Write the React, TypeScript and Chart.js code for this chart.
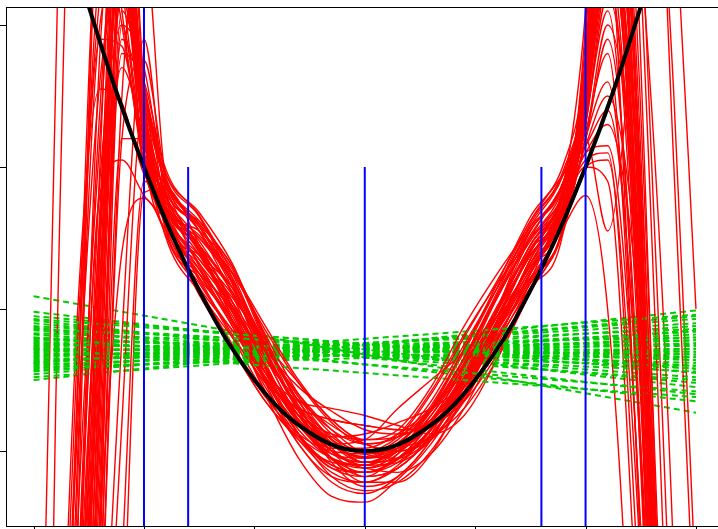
import React, { useEffect, useRef } from "react";
import { Chart, registerables } from "chart.js";

Chart.register(...registerables);

// Axis ticks (labels fall outside the cropped picture)
const X_TICKS = [-3, -2, -1, 0, 1, 2, 3];
const Y_TICKS = [0, 1, 2, 3];

// True curve (black)
const TRUE_X = [-3, -2.75, -2.5, -2.25, -2, -1.75, -1.5, -1.25, -1, -0.75, -0.5, -0.25, 0, 0.25, 0.5, 0.75, 1, 1.25, 1.5, 1.75, 2, 2.25, 2.5, 2.75, 3];
const TRUE_Y = [4.5, 3.78, 3.13, 2.53, 2.0, 1.53, 1.13, 0.78, 0.5, 0.28, 0.13, 0.03, 0, 0.03, 0.13, 0.28, 0.5, 0.78, 1.13, 1.53, 2.0, 2.53, 3.13, 3.78, 4.5];

// High-degree polynomial fits (red), sampled on FIT_X
const FIT_X = [-3, -2.8, -2.6, -2.4, -2.2, -2, -1.8, -1.5, -1.2, -0.9, -0.6, -0.3, 0, 0.3, 0.6, 0.9, 1.2, 1.5, 1.8, 2, 2.2, 2.4, 2.6, 2.8, 3];
const POLY_FITS = [
  [-20, -9, -3, 1.5, 4.5, 2.3, 1.72, 1.43, 1.05, 0.55, 0.2, -0.02, -0.05, 0.05, 0.28, 0.6, 0.95, 1.3, 1.7, 2.5, 4.2, 2.2, -1.5, -8, -20],
  [-25, -12, -5, -0.8, 3.8, 2.4, 1.55, 1.25, 1.0, 0.6, 0.2, -0.05, -0.15, -0.08, 0.15, 0.55, 1.0, 1.42, 1.75, 2.8, 5.0, 3.5, -0.5, -6, -15],
  [-10, -4, 0.5, 3.8, 3.5, 2.1, 1.85, 1.55, 1.15, 0.62, 0.22, 0.1, 0.12, 0.2, 0.3, 0.48, 0.85, 1.35, 1.75, 2.3, 3.6, 1.0, -3, -10, -22],
  [-12, -5, -1.2, 1.8, 2.05, 1.8, 1.62, 1.2, 0.8, 0.4, 0.08, -0.15, -0.22, -0.12, 0.1, 0.45, 0.85, 1.25, 1.65, 2.1, 2.15, 0.8, -2.5, -9, -20],
  [-8, -3, 1.0, 2.55, 2.45, 1.95, 1.78, 1.4, 0.95, 0.55, 0.35, 0.3, 0.25, 0.18, 0.12, 0.25, 0.65, 1.2, 1.72, 2.0, 1.9, -0.2, -4, -12, -25],
  [-4.5, 2.6, 9, 8, 5, 2.3, 1.68, 1.32, 0.92, 0.4, -0.05, -0.32, -0.36, -0.2, 0.05, 0.42, 0.88, 1.3, 1.65, 3.0, 6, 8, 9, 10, 12],
  [-15, -7, -0.6, 3.8, 3.6, 2.2, 1.58, 1.38, 1.15, 0.75, 0.35, 0.05, -0.08, 0, 0.25, 0.65, 1.1, 1.5, 1.8, 2.6, 4.5, 6, 5, 2.5, -1],
  [-9, 0.3, 6, 7, 4.2, 2.0, 1.72, 1.3, 0.88, 0.5, 0.3, 0.22, 0.18, 0.15, 0.18, 0.38, 0.78, 1.25, 1.68, 2.2, 1.55, 2.8, 6, 8, 10],
  [-30, -15, -6, -1.5, 2.5, 3.6, 1.9, 1.62, 1.22, 0.68, 0.22, -0.05, -0.12, -0.02, 0.22, 0.58, 0.98, 1.38, 1.72, 2.4, 3.5, 4, 2.4, -0.8, -6],
  [-15, -8, -3, -0.5, 1.4, 1.78, 1.55, 1.1, 0.72, 0.35, 0.1, -0.05, -0.12, -0.15, -0.02, 0.3, 0.75, 1.18, 1.58, 1.8, 1.0, -1.5, -6, -14, -30],
  [-9, -3.5, 0.5, 2.9, 2.85, 2.05, 1.72, 1.45, 1.12, 0.72, 0.4, 0.15, -0.02, -0.05, 0.1, 0.48, 1.0, 1.55, 1.88, 2.6, 5, 7, 5.5, 2.0, -1.5],
  [14, 10, 7, 4.8, 3.3, 2.1, 1.6, 1.25, 0.92, 0.52, 0.12, -0.18, -0.28, -0.22, 0, 0.38, 0.85, 1.35, 1.75, 2.4, 4.8, 6.5, 6.0, 4.0, 1.0],
  [-18, -8, -2, 2.0, 5.0, 2.6, 1.78, 1.42, 1.0, 0.55, 0.2, 0.05, 0.08, 0.3, 0.5, 0.7, 0.95, 1.22, 1.58, 2.7, 4.8, 3.0, -1.0, -7, -18],
  [-22, -11, -4, 0.2, 3.4, 2.2, 1.7, 1.55, 1.28, 0.76, 0.28, -0.08, -0.25, -0.18, 0.08, 0.5, 1.0, 1.45, 1.82, 2.35, 3.9, 2.6, -0.8, -6, -16],
  [-16, -7, -1.5, 2.8, 4.0, 2.1, 1.52, 1.15, 0.85, 0.55, 0.28, 0.08, -0.02, 0.02, 0.18, 0.45, 0.78, 1.15, 1.55, 2.9, 5.5, 4.5, 0.5, -5, -14],
  [-45, -25, -13, -6, -1.6, 1.82, 1.85, 1.45, 0.92, 0.42, 0.05, -0.22, -0.3, -0.18, 0.08, 0.5, 1.0, 1.5, 1.88, 2.2, 2.9, 1.5, -2.0, -8, -19],
  [-12, -6, -2, 1.0, 3.2, 2.3, 1.68, 1.38, 1.1, 0.72, 0.45, 0.28, 0.15, 0.12, 0.22, 0.52, 0.95, 1.38, 1.7, 2.45, 4.0, 3.2, 0.2, -4.5, -12],
  [-20, -10, -4, -0.2, 2.8, 2.6, 1.95, 1.65, 1.18, 0.58, 0.12, -0.08, -0.1, 0.05, 0.3, 0.7, 1.15, 1.62, 1.95, 2.15, 2.4, 1.2, -1.8, -7, -17],
  [-9, -3.5, 0.2, 2.6, 3.3, 2.2, 1.62, 1.15, 0.75, 0.38, 0.12, 0, -0.02, 0.02, 0.1, 0.3, 0.65, 1.12, 1.6, 2.55, 4.4, 3.0, -0.5, -6, -15],
  [-35, -18, -8, -2.5, 0.8, 2.9, 1.72, 1.35, 1.05, 0.68, 0.3, 0, -0.18, -0.12, 0.12, 0.58, 1.08, 1.48, 1.78, 2.05, 2.1, 0.2, -3.5, -11, -24],
  [10, 7.5, 5.5, 4.0, 3.0, 2.1, 1.6, 1.28, 0.98, 0.58, 0.25, 0.05, 0, 0.05, 0.22, 0.52, 0.9, 1.32, 1.72, 2.3, 3.3, 2.0, -1.2, -6.5, -16],
  [-14, -6, -1.0, 2.4, 3.9, 2.3, 1.78, 1.45, 1.02, 0.5, 0.12, -0.1, -0.15, -0.05, 0.2, 0.55, 0.95, 1.38, 1.72, 2.65, 4.9, 3.4, -0.2, -5, -13],
  [-24, -12, -5, -1.0, 2.2, 2.2, 1.68, 1.22, 0.82, 0.48, 0.3, 0.22, 0.18, 0.15, 0.18, 0.35, 0.68, 1.12, 1.58, 2.4, 3.4, 1.8, -1.6, -7.5, -18],
  [-12, -5, -0.2, 3.9, 3.7, 2.2, 1.88, 1.55, 1.1, 0.58, 0.2, 0.02, 0.02, 0.12, 0.3, 0.55, 0.85, 1.2, 1.6, 2.0, 2.05, 0.5, -2.8, -9.5, -21],
  [-19, -9, -3.5, 0.8, 4.8, 2.5, 1.55, 1.22, 0.92, 0.58, 0.25, -0.05, -0.22, -0.22, -0.02, 0.4, 0.92, 1.42, 1.8, 2.75, 5.2, 5.0, 2.0, -2, -8],
  [-13, -6, -1.8, 1.2, 2.7, 2.2, 1.72, 1.38, 0.98, 0.48, 0.05, -0.18, -0.22, -0.1, 0.15, 0.48, 0.88, 1.28, 1.62, 2.2, 3.0, 2.1, -0.6, -5, -13],
  [12, 9, 6.5, 4.5, 3.1, 2.0, 1.65, 1.35, 1.08, 0.76, 0.48, 0.22, 0.05, 0, 0.08, 0.35, 0.78, 1.25, 1.72, 2.5, 4.1, 2.9, -0.3, -5.5, -14],
  [-26, -13, -5.5, -1.2, 3.0, 2.7, 1.82, 1.48, 1.12, 0.68, 0.3, 0.05, -0.05, 0.02, 0.2, 0.5, 0.88, 1.32, 1.78, 2.35, 3.7, 2.4, -1.0, -6, -15],
  [-10, -4.5, -0.5, 2.2, 4.2, 2.3, 1.58, 1.18, 0.85, 0.52, 0.22, 0, -0.1, -0.08, 0.08, 0.4, 0.85, 1.35, 1.78, 2.1, 2.3, 1.6, -0.2, -3.5, -9],
  [-17, -8, -2.5, 1.0, 3.7, 2.4, 1.72, 1.32, 0.92, 0.52, 0.25, 0.12, 0.08, 0.1, 0.22, 0.45, 0.8, 1.22, 1.65, 2.6, 4.6, 3.3, -0.2, -5.5, -14],
  [-21, -10, -4, 0.0, 2.9, 2.5, 1.92, 1.58, 1.18, 0.66, 0.25, 0, -0.08, 0, 0.22, 0.52, 0.92, 1.42, 1.88, 3.1, 5.8, 4.8, 1.5, -3, -10],
  [-11, -5, -1, 1.9, 3.0, 2.0, 1.6, 1.12, 0.72, 0.35, 0.08, -0.1, -0.15, -0.05, 0.15, 0.45, 0.82, 1.18, 1.55, 2.2, 2.6, 1.2, -1.5, -6, -15],
  [-38, -20, -9.5, -3.2, 0.2, 2.45, 1.72, 1.45, 1.15, 0.74, 0.35, 0.08, -0.08, -0.05, 0.12, 0.45, 0.92, 1.4, 1.82, 2.45, 3.8, 2.7, 0.0, -4.5, -12],
  [16, 12, 8, 5.5, 3.9, 2.3, 1.64, 1.25, 0.88, 0.45, 0.1, -0.12, -0.18, -0.02, 0.28, 0.62, 1.0, 1.38, 1.72, 2.25, 2.8, 0.9, -2.6, -9, -20],
  [-15, -7, -2.2, 1.4, 3.5, 2.4, 1.8, 1.4, 1.02, 0.64, 0.36, 0.18, 0.05, 0, 0.1, 0.36, 0.78, 1.25, 1.7, 2.55, 4.3, 2.8, -0.6, -6, -15],
  [-8, -3, 0.8, 3.2, 3.9, 2.2, 1.5, 1.12, 0.8, 0.48, 0.18, -0.06, -0.18, -0.12, 0.1, 0.45, 0.9, 1.32, 1.65, 2.3, 3.2, 2.2, -0.4, -4.8, -12],
  [-40, -22, -11, -4.5, -0.8, 1.9, 1.75, 1.5, 1.2, 0.76, 0.38, 0.08, -0.08, -0.05, 0.15, 0.52, 0.98, 1.45, 1.82, 2.7, 5.1, 3.5, -0.4, -6, -15],
  [-12, -5.5, -1.4, 1.6, 3.6, 2.2, 1.66, 1.28, 0.9, 0.5, 0.15, -0.05, -0.1, 0.02, 0.22, 0.5, 0.86, 1.28, 1.68, 2.15, 2.5, 1.8, 0.0, -3, -8],
  [-20, -9.5, -3.8, 0.5, 3.3, 2.5, 1.86, 1.42, 0.98, 0.5, 0.12, -0.12, -0.15, -0.06, 0.16, 0.5, 0.92, 1.4, 1.8, 2.5, 4.0, 2.5, -0.8, -6, -15],
  [-16, -7.5, -2.8, 0.9, 4.4, 2.4, 1.62, 1.32, 1.02, 0.66, 0.32, 0.06, -0.05, 0, 0.18, 0.46, 0.84, 1.26, 1.72, 2.4, 3.6, 2.3, -0.9, -6, -15],
  [-18, -8.5, -3, 1.2, 3.6, 2.5, 1.95, 1.68, 1.32, 0.78, 0.35, 0.1, 0.0, 0.1, 0.4, 0.8, 1.2, 1.62, 1.98, 2.6, 4.5, 3.2, -0.5, -6, -15],
  [-14, -6.5, -2.2, 1.5, 3.4, 2.45, 1.9, 1.62, 1.3, 0.82, 0.4, 0.12, -0.02, 0.08, 0.35, 0.75, 1.15, 1.58, 1.95, 2.5, 4.0, 2.6, -1.0, -7, -17],
  [-22, -10.5, -4.2, 0.4, 3.8, 2.6, 1.98, 1.66, 1.25, 0.72, 0.3, 0.05, -0.05, 0.05, 0.32, 0.72, 1.18, 1.65, 2.02, 2.7, 4.6, 3.0, -0.8, -6.5, -16],
  [-10, -4.2, 0.0, 3.0, 3.4, 2.3, 1.75, 1.52, 1.25, 0.85, 0.48, 0.2, 0.05, 0.12, 0.42, 0.82, 1.18, 1.5, 1.85, 2.4, 3.5, 2.0, -1.6, -7.5, -18],
  [-26, -12.5, -5, -0.6, 3.1, 2.55, 1.85, 1.58, 1.22, 0.7, 0.28, 0.0, -0.1, 0.0, 0.3, 0.72, 1.15, 1.56, 1.9, 2.55, 4.2, 2.9, -0.5, -5.5, -14],
  [-13, -5.8, -1.6, 1.7, 3.9, 2.35, 1.82, 1.6, 1.3, 0.8, 0.32, 0.02, -0.12, -0.05, 0.2, 0.62, 1.1, 1.55, 1.9, 2.45, 3.9, 2.5, -1.0, -6.5, -16],
  [-30, -14.5, -6.2, -1.6, 2.2, 2.75, 1.92, 1.6, 1.2, 0.75, 0.38, 0.15, 0.05, 0.1, 0.3, 0.65, 1.08, 1.52, 1.88, 2.35, 3.1, 1.4, -2.2, -8.5, -19],
  [-9.5, -3.8, 0.4, 3.4, 3.8, 2.25, 1.7, 1.5, 1.26, 0.88, 0.5, 0.22, 0.08, 0.15, 0.45, 0.88, 1.25, 1.58, 1.9, 2.65, 4.7, 3.6, 0.2, -4.5, -12],
  [-17, -8.2, -3.2, 0.6, 4.1, 2.45, 1.8, 1.45, 1.05, 0.6, 0.22, -0.02, -0.08, 0.02, 0.25, 0.6, 1.02, 1.45, 1.85, 2.75, 5.0, 3.9, 0.5, -4, -11],
  [-23, -11, -4.6, -0.4, 3.3, 2.5, 1.88, 1.55, 1.18, 0.7, 0.3, 0.05, -0.04, 0.06, 0.28, 0.66, 1.12, 1.6, 1.96, 2.5, 3.8, 2.2, -1.3, -7, -17],
];

// Straight-line fits (green dashed): value at x = -3 and at x = 3
const LINE_X = [-3, 3];
const LINE_LEFT = [1.09, 0.5, 0.98, 0.95, 0.9, 0.88, 0.85, 0.83, 0.8, 0.78, 0.76, 0.74, 0.72, 0.7, 0.68, 0.66, 0.64, 0.62, 0.6, 0.58, 0.56, 0.54, 0.52, 0.92, 0.87, 0.82, 0.79, 0.77, 0.73, 0.71, 0.69, 0.67, 0.65, 0.63, 0.61, 0.59, 0.57, 0.75, 0.86, 0.93, 0.72, 0.8, 0.62];
const LINE_RIGHT = [0.27, 0.99, 0.45, 0.55, 0.48, 0.6, 0.52, 0.66, 0.58, 0.7, 0.62, 0.75, 0.68, 0.8, 0.72, 0.86, 0.78, 0.9, 0.84, 0.93, 0.88, 0.95, 0.85, 0.4, 0.35, 0.5, 0.64, 0.56, 0.6, 0.74, 0.66, 0.78, 0.7, 0.82, 0.76, 0.72, 0.8, 0.68, 0.64, 0.58, 0.38, 0.42, 0.96];

// Vertical markers (blue)
const MARK_X = [-2, -1.6, 0, 1.6, 2];
const MARK_TOP = [3.5, 2, 2, 2, 3.5];
const MARK_BOTTOM = -0.7;

const X_MIN = -3.25;
const X_MAX = 3.245;
const Y_MIN = -0.528;
const Y_MAX = 3.127;

const framePlugin = {
  id: "frame",
  afterDatasetsDraw(chart: any) {
    const { ctx, chartArea: a, scales } = chart;
    ctx.save();
    ctx.strokeStyle = "#000";
    ctx.lineWidth = 1;
    ctx.strokeRect(a.left + 0.5, a.top + 0.5, a.right - a.left, a.bottom - a.top);
    ctx.beginPath();
    for (const v of Y_TICKS) {
      const p = Math.round(scales.y.getPixelForValue(v)) + 0.5;
      ctx.moveTo(a.left - 8, p);
      ctx.lineTo(a.left, p);
    }
    for (const v of X_TICKS) {
      const p = Math.round(scales.x.getPixelForValue(v)) + 0.5;
      ctx.moveTo(p, a.bottom);
      ctx.lineTo(p, a.bottom + 8);
    }
    ctx.stroke();
    ctx.restore();
  },
};

export default function App() {
  const ref = useRef<HTMLCanvasElement>(null);

  useEffect(() => {
    const canvas = ref.current;
    if (!canvas) return;
    const layers: any[] = [];
    const n = Math.max(POLY_FITS.length, LINE_LEFT.length);
    for (let i = 0; i < n; i++) {
      if (i < POLY_FITS.length) {
        layers.push({
          data: FIT_X.map((x, j) => ({ x, y: POLY_FITS[i][j] })),
          borderColor: "#ff0000",
          borderWidth: 1.4,
          cubicInterpolationMode: "monotone",
        });
      }
      if (i < LINE_LEFT.length) {
        layers.push({
          data: [
            { x: LINE_X[0], y: LINE_LEFT[i] },
            { x: LINE_X[1], y: LINE_RIGHT[i] },
          ],
          borderColor: "#00cc00",
          borderWidth: 2,
          borderDash: [6, 4],
        });
      }
    }
    layers.push({
      data: TRUE_X.map((x, j) => ({ x, y: TRUE_Y[j] })),
      borderColor: "#000000",
      borderWidth: 4,
      tension: 0.4,
    });
    MARK_X.forEach((x, k) => {
      layers.push({
        data: [
          { x, y: MARK_BOTTOM },
          { x, y: MARK_TOP[k] },
        ],
        borderColor: "#0000ff",
        borderWidth: 2,
      });
    });
    const total = layers.length;
    const datasets = layers.map((d, k) => ({
      pointRadius: 0,
      pointHoverRadius: 0,
      fill: false,
      clip: 0,
      tension: 0,
      ...d,
      order: total - k,
    }));

    const chart = new Chart(canvas, {
      type: "line",
      data: { datasets },
      options: {
        animation: false,
        responsive: false,
        devicePixelRatio: 1,
        events: [],
        layout: { padding: { left: 6, top: 7, right: 7, bottom: 3 } },
        plugins: { legend: { display: false }, tooltip: { enabled: false } },
        scales: {
          x: { type: "linear", min: X_MIN, max: X_MAX, display: false },
          y: { type: "linear", min: Y_MIN, max: Y_MAX, display: false },
        },
      },
      plugins: [framePlugin],
    } as any);
    return () => chart.destroy();
  }, []);

  return (
    <div
      style={{
        position: "fixed",
        left: 0,
        top: 0,
        width: 718,
        height: 529,
        overflow: "hidden",
        background: "#ffffff",
      }}
    >
      <canvas ref={ref} width={730} height={529} style={{ display: "block" }} />
    </div>
  );
}
